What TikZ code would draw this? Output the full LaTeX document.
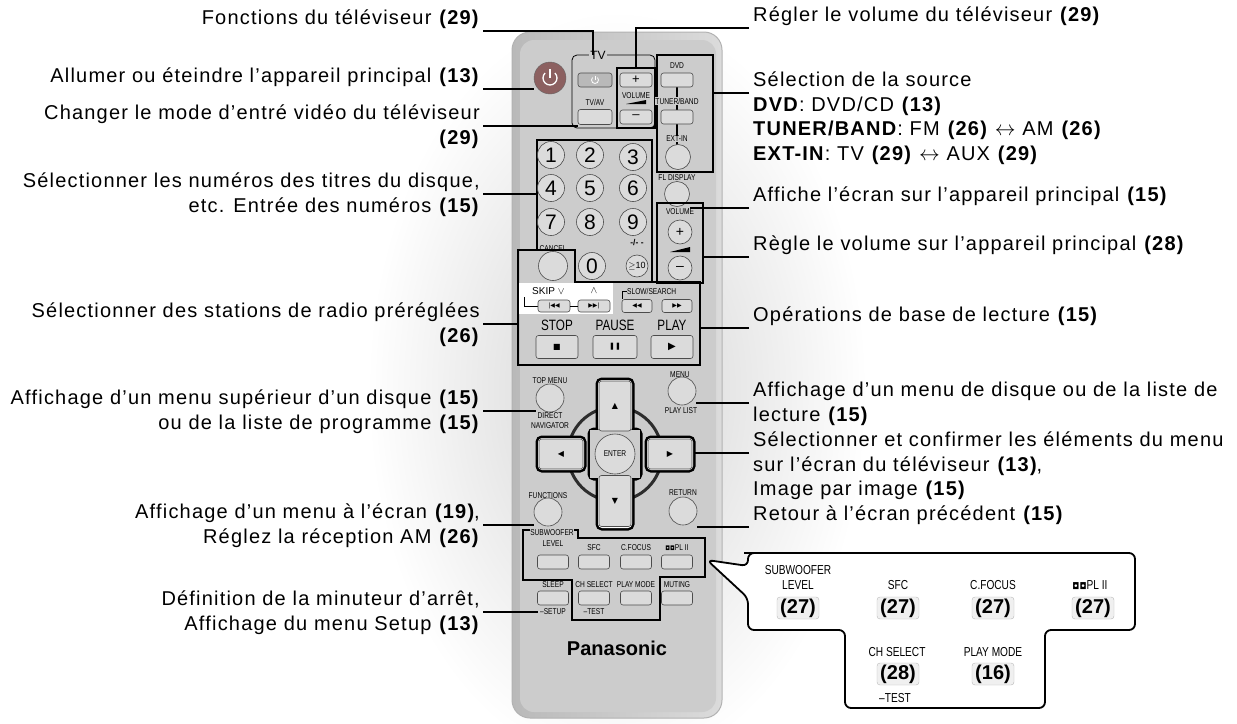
\documentclass[tikz,border=0pt]{standalone}
\usepackage{fontspec}
\setmainfont{Liberation Sans}
\newfontfamily\labfont[LetterSpace=6]{Liberation Sans}
\newfontfamily\dv{DejaVu Sans}
\newcommand\lab{\labfont\fontsize{20}{24.5}\selectfont}
\newcommand\cnd[1]{\scalebox{0.78}[1]{#1}}
\definecolor{remote}{gray}{0.80}
\definecolor{btnc}{gray}{0.86}
\definecolor{pwrc}{RGB}{140,96,96}
\tikzset{
  btn/.style={draw=black!70, fill=btnc, rounded corners=2.5pt, line width=0.6pt, inner sep=0pt},
  rbtn/.style={draw=black!70, fill=btnc, circle, line width=0.6pt, inner sep=0pt},
  grp/.style={draw=black, line width=1.8pt},
  con/.style={line width=1.5pt},
  tiny/.style={font=\fontsize{8.5}{9}\selectfont, inner sep=0pt},
  lbl/.style={font=\lab, inner sep=0pt},
  ins/.style={font=\fontsize{13}{14}\selectfont, inner sep=0pt},
  insb/.style={draw=gray!55, fill=gray!12, rounded corners=3pt, minimum width=42pt, minimum height=22pt, inner sep=0pt, font=\fontsize{20}{20}\selectfont\bfseries},
}
\begin{document}
\begin{tikzpicture}[x=1pt,y=-1pt]
\useasboundingbox (0,0) rectangle (1237,723);
% halo
\shade[inner color=gray!35, outer color=white] (617,390) ellipse (250 and 380);
% remote body
\shade[left color=gray!55, right color=gray!28, rounded corners=18pt, draw=gray!60, line width=1pt] (512,32) rectangle (722,718);
\fill[remote, rounded corners=14pt] (520,40) rectangle (716,712);

% ===== TV group =====
\draw[line width=0.8pt, rounded corners=5pt] (572,55) rectangle (655,128);
\node[fill=remote, inner sep=1pt, font=\fontsize{12}{12}\selectfont] (tvlab) at (598,55) {TV};
\node[btn, fill=gray!55, minimum width=34pt, minimum height=14pt] (tvpwr) at (595,80) {};
\draw[white, line width=0.8pt] (595,80) -- (595,75.5);
\draw[white, line width=0.8pt] (595,80) ++(315:3.5) arc[start angle=315, end angle=585, radius=3.5];
\node[tiny] (tvavl) at (595,102) {\cnd{TV/AV}};
\node[btn, minimum width=34pt, minimum height=15pt] (tvav) at (595,117) {};
\draw[grp] (617,68) rectangle (655,128);
\node[btn, minimum width=32pt, minimum height=14pt, font=\fontsize{13}{13}\selectfont] (tvvp) at (636,80) {+};
\node[tiny] (tvvl) at (636,96) {\cnd{VOLUME}};
\fill (626,104) -- (646,100) -- (646,104) -- cycle;
\node[btn, minimum width=32pt, minimum height=14pt, font=\fontsize{13}{13}\selectfont] (tvvm) at (636,117) {--};

% power
\node[circle, fill=pwrc, draw=black!60, minimum size=32pt, inner sep=0pt] (pwr) at (550,78) {};
\draw[white, line width=1.3pt] (550,78) -- (550,69);
\draw[white, line width=1.3pt] (550,78) ++(315:7) arc[start angle=315, end angle=585, radius=7];

% ===== source group =====
\draw[grp] (657,55) rectangle (713,172);
\draw[line width=1.3pt] (677,87) -- (677,110) (677,124) -- (677,145);
\node[tiny] (dvdl) at (677,66) {\cnd{DVD}};
\node[btn, minimum width=32pt, minimum height=14pt] (dvd) at (677,80) {};
\node[tiny, fill=remote, inner sep=0.5pt] (tunl) at (677,101) {\cnd{TUNER/BAND}};
\node[btn, minimum width=32pt, minimum height=14pt] (tun) at (677,117) {};
\node[tiny, fill=remote, inner sep=0.5pt] (extl) at (677,139) {\cnd{EXT-IN}};
\node[rbtn, minimum size=25pt] (ext) at (678,157) {};
\node[tiny] (fll) at (677,178) {\cnd{FL DISPLAY}};
\node[rbtn, minimum size=25pt] (fl) at (677,194) {};

% ===== main volume =====
\draw[grp] (657,203) rectangle (703,283);
\node[tiny] (mvl) at (680,212) {\cnd{VOLUME}};
\node[rbtn, minimum size=24pt, font=\fontsize{14}{14}\selectfont] (mvp) at (680,232) {+};
\fill (670,252) -- (690,247) -- (690,252) -- cycle;
\node[rbtn, minimum size=24pt, font=\fontsize{14}{14}\selectfont] (mvm) at (680,268) {--};

% ===== number group =====
\draw[grp] (537,140) -- (652,140) -- (652,282) -- (575,282) -- (575,250) -- (537,250) -- cycle;
\foreach \d/\x/\y in {1/551/155,2/590/155,3/633/157,4/551/188,5/590/188,6/633/188,7/551/222,8/590/222,9/633/222}{
  \node[rbtn, minimum size=27pt, font=\fontsize{21}{21}\selectfont] (n\d) at (\x,\y) {\d};
}
\node[rbtn, minimum size=27pt, font=\fontsize{21}{21}\selectfont] (n0) at (592,266) {0};
\node[tiny] (dashl) at (637,243) {\textbf{-/- -}};
\node[rbtn, minimum size=22pt, font=\fontsize{9}{9}\selectfont] (n10) at (637,266) {$\geq$10};

% ===== playback group =====
\fill[white] (519,283) rectangle (613,314);
\draw[grp] (518,250) -- (575,250) -- (575,282) -- (700,282) -- (700,365) -- (518,365) -- cycle;
\node[tiny] (cancl) at (553,249) {\cnd{CANCEL}};
\node[rbtn, minimum size=29pt] (canc) at (553,266) {};
\node[font=\fontsize{10}{10}\selectfont, inner sep=0pt, anchor=west] (skipl) at (532,291) {SKIP $\vee$};
\node[font=\fontsize{10}{10}\selectfont, inner sep=0pt] (upl) at (594,291) {$\wedge$};
\draw[line width=0.5pt] (524,297) -- (524,306) -- (538,306);
\node[btn, minimum width=32pt, minimum height=12pt, font=\dv\fontsize{6}{6}\selectfont] (skb) at (554,306) {|◀◀};
\node[btn, minimum width=32pt, minimum height=12pt, font=\dv\fontsize{6}{6}\selectfont] (skf) at (594,306) {▶▶|};
\draw[line width=0.5pt] (skb) -- (skf);
\node[tiny, anchor=west] (slowl) at (627,291) {\cnd{SLOW/SEARCH}};
\draw[line width=0.5pt] (627,291) -- (622,291) -- (622,299);
\node[btn, minimum width=30pt, minimum height=13pt, font=\dv\fontsize{6}{6}\selectfont] (rew) at (637,306) {◀◀};
\node[btn, minimum width=30pt, minimum height=13pt, font=\dv\fontsize{6}{6}\selectfont] (ff) at (677,306) {▶▶};
\node[font=\fontsize{15}{15}\selectfont, inner sep=0pt] (stopl) at (557,325) {\cnd{STOP}};
\node[font=\fontsize{15}{15}\selectfont, inner sep=0pt] (pausel) at (615,325) {\cnd{PAUSE}};
\node[font=\fontsize{15}{15}\selectfont, inner sep=0pt] (playl) at (672,325) {\cnd{PLAY}};
\node[btn, minimum width=42pt, minimum height=23pt, font=\dv\fontsize{8}{8}\selectfont] (stop) at (557,347) {■};
\node[btn, minimum width=44pt, minimum height=23pt, font=\dv\fontsize{7}{7}\selectfont] (pause) at (615,347) {❚❚};
\node[btn, minimum width=42pt, minimum height=23pt, font=\dv\fontsize{10}{10}\selectfont] (play) at (672,347) {▶};

% ===== navigation =====
\node[tiny] (topl) at (550,381) {\cnd{TOP MENU}};
\node[rbtn, minimum size=28pt] (top) at (550,398) {};
\node[tiny] (dirl) at (550,416) {\cnd{DIRECT}};
\node[tiny] (navl) at (550,426) {\cnd{NAVIGATOR}};
\node[tiny] (menul) at (680,375) {\cnd{MENU}};
\node[rbtn, minimum size=28pt] (menu) at (682,391) {};
\node[tiny] (plistl) at (681,411) {\cnd{PLAY LIST}};
\draw[gray!35!black, line width=3pt] (615,454) circle (47);
\foreach \a/\b/\c/\d in {598/380/632/432, 538/438/584/470, 647/438/693/470, 598/475/632/528, 590/430/640/478}{
  \draw[black, line width=5pt, rounded corners=4pt] (\a,\b) rectangle (\c,\d);
}
\foreach \a/\b/\c/\d in {598/380/632/432, 538/438/584/470, 647/438/693/470, 598/475/632/528}{
  \fill[white, rounded corners=4pt] (\a,\b) rectangle (\c,\d);
}
\fill[remote] (590,430) rectangle (640,478);
\node[btn, minimum width=32pt, minimum height=50pt, font=\dv\fontsize{8}{8}\selectfont] (up) at (615,406) {▲};
\node[btn, minimum width=44pt, minimum height=30pt, font=\dv\fontsize{8}{8}\selectfont] (left) at (561,454) {◀};
\node[btn, minimum width=44pt, minimum height=30pt, font=\dv\fontsize{8}{8}\selectfont] (right) at (670,454) {▶};
\node[btn, minimum width=32pt, minimum height=51pt, font=\dv\fontsize{8}{8}\selectfont] (down) at (615,501) {▼};
\node[rbtn, minimum size=40pt, font=\fontsize{8.5}{9}\selectfont] (enter) at (615,454) {\cnd{ENTER}};
\node[tiny] (funcl) at (548,496) {\cnd{FUNCTIONS}};
\node[rbtn, minimum size=28pt] (func) at (548,512) {};
\node[tiny] (retl) at (683,493) {\cnd{RETURN}};
\node[rbtn, minimum size=28pt] (ret) at (683,511) {};

% ===== bottom group =====
\draw[grp] (523,530) -- (578,530) -- (578,538) -- (705,538) -- (705,577) -- (660,577) -- (660,620) -- (572,620) -- (572,580) -- (523,580) -- cycle;
\node[tiny, fill=remote, inner sep=0.5pt] (subl) at (552,533) {\cnd{SUBWOOFER}};
\node[tiny] (levl) at (553,544) {\cnd{LEVEL}};
\node[tiny] (sfcl) at (594,548) {\cnd{SFC}};
\node[tiny] (cfl) at (636,548) {\cnd{C.FOCUS}};
\node[tiny] (pll) at (677,548) {{\dv\fontsize{6}{6}\selectfont ◘◘}\cnd{PL II}};
\foreach \n/\x in {sub/553, sfc/594, cf/636, pl/677}{
  \node[btn, minimum width=31pt, minimum height=14pt] (\n) at (\x,562) {};
}
\node[tiny] (sleepl) at (553,585) {\cnd{SLEEP}};
\node[tiny] (chl) at (594,585) {\cnd{CH SELECT}};
\node[tiny] (pml) at (636,585) {\cnd{PLAY MODE}};
\node[tiny] (mutl) at (677,585) {\cnd{MUTING}};
\foreach \n/\x in {sleep/553, ch/594, pm/636, mut/677}{
  \node[btn, minimum width=31pt, minimum height=14pt] (\n) at (\x,598) {};
}
\node[tiny] (setl) at (553,612) {\cnd{--SETUP}};
\node[tiny] (testl) at (594,612) {\cnd{--TEST}};
\node[font=\fontsize{20}{20}\selectfont\bfseries, inner sep=0pt] (brand) at (617,648) {Panasonic};

% ===== inset =====
\draw[line width=1.8pt, rounded corners=6pt, fill=white] (750,553) -- (1135,553) -- (1135,630) -- (1045,630) -- (1045,708) -- (845,708) -- (845,630) -- (748,630) -- (748,598) -- (707,560) -- (748,566) -- (748,553) -- cycle;
\node[ins] (isub) at (798,570) {\cnd{SUBWOOFER}};
\node[ins] (ilev) at (798,585) {\cnd{LEVEL}};
\node[ins] (isfc) at (898,585) {\cnd{SFC}};
\node[ins] (icf) at (993,585) {\cnd{C.FOCUS}};
\node[ins] (ipl) at (1090,585) {{\dv\fontsize{9}{9}\selectfont ◘◘}\cnd{PL II}};
\node[insb] (b1) at (798,608) {(27)};
\node[insb] (b2) at (898,608) {(27)};
\node[insb] (b3) at (993,608) {(27)};
\node[insb] (b4) at (1093,608) {(27)};
\node[ins] (ich) at (897,652) {\cnd{CH SELECT}};
\node[ins] (ipm) at (993,652) {\cnd{PLAY MODE}};
\node[insb] (b5) at (898,674) {(28)};
\node[insb] (b6) at (993,674) {(16)};
\node[ins] (itest) at (895,698) {\cnd{--TEST}};

% ===== left labels =====
\node[lbl, anchor=base east] (L1) at (480,24.5) {Fonctions du téléviseur \textbf{(29)}};
\node[lbl, anchor=base east] (L2) at (480,82.5) {Allumer ou éteindre l’appareil principal \textbf{(13)}};
\node[lbl, anchor=base east] (L3) at (480,119.5) {Changer le mode d’entré vidéo du téléviseur};
\node[lbl, anchor=base east] (L3b) at (480,144) {\textbf{(29)}};
\node[lbl, anchor=base east] (L4) at (480,187.5) {Sélectionner les numéros des titres du disque,};
\node[lbl, anchor=base east] (L4b) at (480,212) {etc. Entrée des numéros \textbf{(15)}};
\node[lbl, anchor=base east] (L5) at (480,317.5) {Sélectionner des stations de radio préréglées};
\node[lbl, anchor=base east] (L5b) at (480,342) {\textbf{(26)}};
\node[lbl, anchor=base east] (L6) at (480,404.5) {Affichage d’un menu supérieur d’un disque \textbf{(15)}};
\node[lbl, anchor=base east] (L6b) at (480,429) {ou de la liste de programme \textbf{(15)}};
\node[lbl, anchor=base east] (L7) at (480,518.5) {Affichage d’un menu à l’écran \textbf{(19)},};
\node[lbl, anchor=base east] (L7b) at (480,543) {Réglez la réception AM \textbf{(26)}};
\node[lbl, anchor=base east] (L8) at (480,605.5) {Définition de la minuteur d’arrêt,};
\node[lbl, anchor=base east] (L8b) at (480,630) {Affichage du menu Setup \textbf{(13)}};

% ===== right labels =====
\node[lbl, anchor=base west] (R1) at (753,21.5) {Régler le volume du téléviseur \textbf{(29)}};
\node[lbl, anchor=base west] (R2) at (753,86.5) {Sélection de la source};
\node[lbl, anchor=base west] (R2b) at (753,111) {\textbf{DVD}: DVD/CD \textbf{(13)}};
\node[lbl, anchor=base west] (R2c) at (753,135.5) {\textbf{TUNER/BAND}: FM \textbf{(26)} $\leftrightarrow$ AM \textbf{(26)}};
\node[lbl, anchor=base west] (R2d) at (753,160) {\textbf{EXT-IN}: TV \textbf{(29)} $\leftrightarrow$ AUX \textbf{(29)}};
\node[lbl, anchor=base west] (R3) at (753,201.5) {Affiche l’écran sur l’appareil principal \textbf{(15)}};
\node[lbl, anchor=base west] (R4) at (753,250.5) {Règle le volume sur l’appareil principal \textbf{(28)}};
\node[lbl, anchor=base west] (R5) at (753,321.5) {Opérations de base de lecture \textbf{(15)}};
\node[lbl, anchor=base west] (R6) at (753,396.5) {Affichage d’un menu de disque ou de la liste de};
\node[lbl, anchor=base west] (R6b) at (753,421) {lecture \textbf{(15)}};
\node[lbl, anchor=base west] (R7) at (753,446.5) {Sélectionner et confirmer les éléments du menu};
\node[lbl, anchor=base west] (R7b) at (753,471) {sur l’écran du téléviseur \textbf{(13)},};
\node[lbl, anchor=base west] (R7c) at (753,495.5) {Image par image \textbf{(15)}};
\node[lbl, anchor=base west] (R8) at (753,520.5) {Retour à l’écran précédent \textbf{(15)}};

% ===== connectors =====
\foreach \n in {L1,L2,L3,L4,L5,L6,L7,L8}{
  \coordinate (a\n) at ([xshift=3pt,yshift=-6.5pt]\n.base east);
}
\foreach \n in {R1,R2,R3,R4,R5,R6,R7,R8}{
  \coordinate (a\n) at ([xshift=-4pt,yshift=-6.5pt]\n.base west);
}
\coordinate (tvtop) at (593,55);
\coordinate (voltop) at (636,68);
\coordinate (numleft) at (537,140);
\coordinate (playleft) at (518,250);
\coordinate (srcright) at (713,55);
\coordinate (mvright) at (703,203);
\coordinate (playright) at (700,282);
\coordinate (crossright) at (695,438);
\coordinate (sleepleft) at (538,598);
\draw[con] (aL1) -| (tvtop);
\draw[con] (aL2) -- (aL2 -| pwr.west);
\draw[con] (aL3) -- (aL3 -| tvav.west);
\draw[con] (aL4) -- (aL4 -| numleft);
\draw[con] (aL5) -- (aL5 -| playleft);
\draw[con] (aL6) -- (aL6 -| top.west);
\draw[con] (aL7) -- (aL7 -| func.west);
\draw[con] (aL8) -- (aL8 -| sleepleft);
\draw[con] (aR1) -| (voltop);
\draw[con] (aR2) -- (aR2 -| srcright);
\draw[con] (aR3) -- (aR3 -| fl.east);
\draw[con] (aR4) -- (aR4 -| mvright);
\draw[con] (aR5) -- (aR5 -| playright);
\draw[con] (aR6) -- (aR6 -| menu.east);
\draw[con] (aR7) -- (aR7 -| crossright);
\draw[con] (aR8) -- (aR8 -| ret.east);
\end{tikzpicture}
\end{document}
